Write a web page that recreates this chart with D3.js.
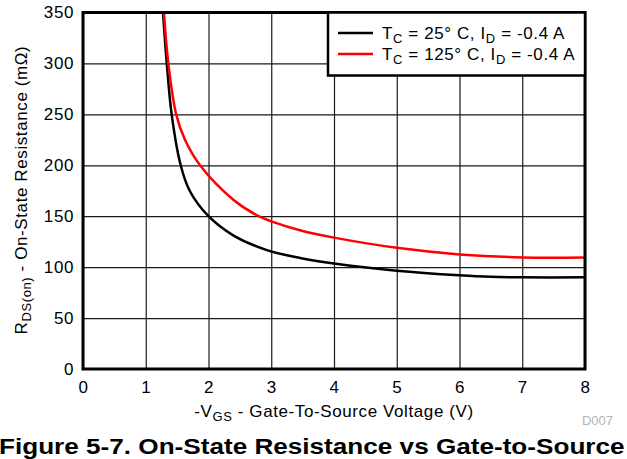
<!DOCTYPE html>
<html>
<head>
<meta charset="utf-8">
<script src="https://cdn.jsdelivr.net/npm/d3@7"></script>
<style>
  body { margin: 0; background: #fff; }
  svg { font-family: "Liberation Sans", Arial, sans-serif; }
</style>
</head>
<body>
<svg id="chart" width="627" height="459"></svg>
<script>
// data
var xTicks = [0, 1, 2, 3, 4, 5, 6, 7, 8];
var yTicks = [0, 50, 100, 150, 200, 250, 300, 350];

var vgs25 = [1.275, 1.335, 1.413, 1.557, 1.70, 2.0, 2.4, 2.92, 3.5, 4.0, 5.0, 6.0, 6.5, 7.0, 8.0];
var rds25 = [350, 300, 250, 200, 175, 150, 131, 117, 108.5, 103.5, 96.5, 92, 90.5, 90, 90];

var vgs125 = [1.29, 1.36, 1.485, 1.625, 1.865, 2.4, 2.8, 3.0, 3.5, 4.0, 5.0, 6.0, 7.0, 8.0];
var rds125 = [350, 300, 250, 225, 200, 166, 150, 145, 135.5, 129, 119, 112.5, 109.5, 109.5];

var seriesNames = ["25", "125"];
var seriesColors = ["#000000", "#ff0000"];

var svg = d3.select("#chart");

var mLeft = 83, mRight = 585, mTop = 12.5, mBottom = 369;
var fs = 17, ls = 0.6; // text looks a bit wide in the reference

var x = d3.scaleLinear().domain([0, 8]).range([mLeft, mRight]);
var y = d3.scaleLinear().domain([0, 350]).range([mBottom, mTop]);

// grid
svg.append("g")
   .attr("transform", "translate(0," + mBottom + ")")
   .call(d3.axisBottom(x).tickValues(xTicks).tickSize(-(mBottom - mTop)).tickFormat(""))
   .call(function(g){
      g.select(".domain").remove();
      g.selectAll("line").attr("stroke", "#1a1a1a").attr("stroke-width", 1.2);
   });
svg.append("g")
   .attr("transform", "translate(" + mLeft + ",0)")
   .call(d3.axisLeft(y).tickValues(yTicks).tickSize(-(mRight - mLeft)).tickFormat(""))
   .call(function(g){
      g.select(".domain").remove();
      g.selectAll("line").attr("stroke", "#1a1a1a").attr("stroke-width", 1.2);
   });

// tick labels
svg.append("g")
   .attr("transform", "translate(0," + mBottom + ")")
   .call(d3.axisBottom(x).tickValues(xTicks).tickSize(0).tickPadding(12))
   .call(function(g){
      g.select(".domain").remove();
      g.selectAll("text").attr("font-size", fs).attr("fill", "#000")
       .attr("letter-spacing", ls)
       .attr("font-family", "Liberation Sans, Arial, sans-serif");
   });
svg.append("g")
   .attr("transform", "translate(" + mLeft + ",0)")
   .call(d3.axisLeft(y).tickValues(yTicks).tickSize(0).tickPadding(9))
   .call(function(g){
      g.select(".domain").remove();
      g.selectAll("text").attr("font-size", fs).attr("fill", "#000")
       .attr("letter-spacing", ls)
       .attr("font-family", "Liberation Sans, Arial, sans-serif");
   });

// curves
var line = d3.line()
   .x(function(d){ return x(d[0]); })
   .y(function(d){ return y(d[1]); })
   .curve(d3.curveCatmullRom.alpha(0.5));

var data25 = vgs25.map(function(v, i){ return [v, rds25[i]]; });
var data125 = vgs125.map(function(v, i){ return [v, rds125[i]]; });

svg.append("path").datum(data25)
   .attr("d", line).attr("fill", "none")
   .attr("stroke", seriesColors[0]).attr("stroke-width", 2.5);
svg.append("path").datum(data125)
   .attr("d", line).attr("fill", "none")
   .attr("stroke", seriesColors[1]).attr("stroke-width", 2.5);

// frame
svg.append("rect")
   .attr("x", mLeft).attr("y", mTop)
   .attr("width", mRight - mLeft).attr("height", mBottom - mTop)
   .attr("fill", "none").attr("stroke", "#000").attr("stroke-width", 3);

// legend
var lg = svg.append("g");
lg.append("rect")
  .attr("x", 328).attr("y", mTop).attr("width", mRight - 328).attr("height", 63)
  .attr("fill", "#fff").attr("stroke", "#000").attr("stroke-width", 2.5);

seriesNames.forEach(function(name, i){
   var ly = 33 + i * 21;
   lg.append("line")
     .attr("x1", 338).attr("x2", 373).attr("y1", ly).attr("y2", ly)
     .attr("stroke", seriesColors[i]).attr("stroke-width", 2.5);
   var t = lg.append("text").attr("x", 382).attr("y", ly + 6)
     .attr("font-size", fs).attr("letter-spacing", ls);
   t.append("tspan").text("T");
   t.append("tspan").attr("font-size", 13).attr("dy", 4).text("C");
   t.append("tspan").attr("dy", -4).text(" = " + name + "\u00b0 C, I");
   t.append("tspan").attr("font-size", 13).attr("dy", 4).text("D");
   t.append("tspan").attr("dy", -4).text(" = -0.4 A");
});

// axis titles
var xt = svg.append("text")
   .attr("x", (mLeft + mRight) / 2).attr("y", 416.5)
   .attr("text-anchor", "middle").attr("font-size", fs).attr("letter-spacing", ls);
xt.append("tspan").text("-V");
xt.append("tspan").attr("font-size", 13).attr("dy", 4).text("GS");
xt.append("tspan").attr("dy", -4).text(" - Gate-To-Source Voltage (V)");

var yt = svg.append("text")
   .attr("transform", "translate(27,190) rotate(-90)")
   .attr("text-anchor", "middle").attr("font-size", fs).attr("letter-spacing", ls);
yt.append("tspan").text("R");
yt.append("tspan").attr("font-size", 13).attr("dy", 4).text("DS(on)");
yt.append("tspan").attr("dy", -4).text(" - On-State Resistance (m\u03a9)");

svg.append("text")
   .attr("x", 613).attr("y", 425).attr("text-anchor", "end")
   .attr("font-size", 13).attr("fill", "#b3b3b3").text("D007");

// caption, stretched so it spans the width like the reference
var cap = svg.append("text")
   .attr("font-size", 22).attr("font-weight", "bold")
   .text("Figure 5-7. On-State Resistance vs Gate-to-Source");
var capW = cap.node().getComputedTextLength();
cap.attr("transform", "translate(-1,454.3) scale(" + (626 / capW) + ",1)");
</script>
</body>
</html>
